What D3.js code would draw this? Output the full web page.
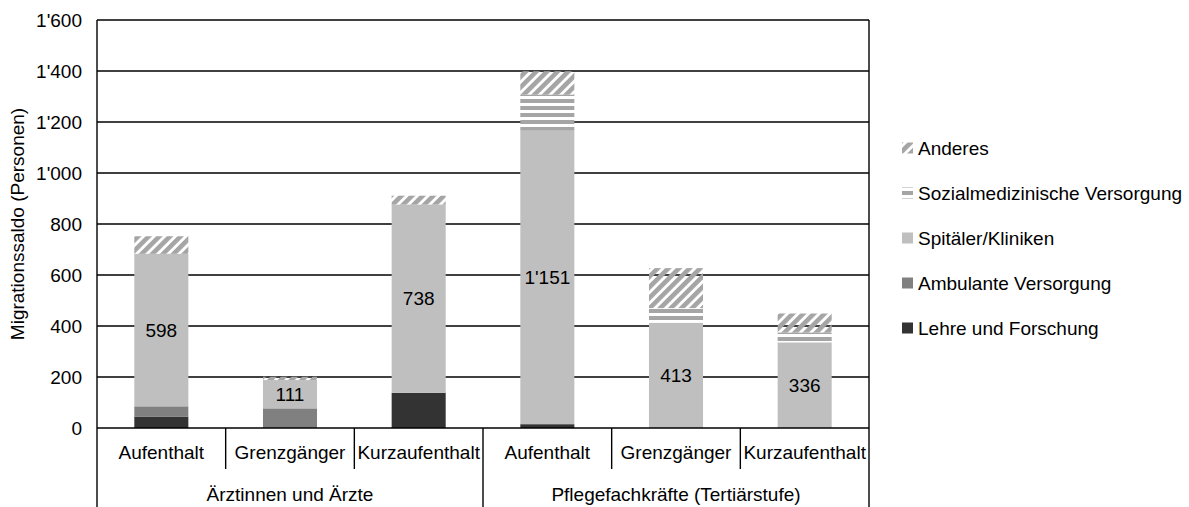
<!DOCTYPE html>
<html>
<head>
<meta charset="utf-8">
<script src="https://cdn.jsdelivr.net/npm/d3@7"></script>
<style>
  body { margin: 0; background: #fff; }
  svg text { font-family: "Liberation Sans", Arial, Helvetica, sans-serif; fill: #000; }
</style>
</head>
<body>
<svg id="chart"></svg>
<script>
const width = 1189;
const height = 507;

// data
const subCategories = ["Aufenthalt", "Grenzgänger", "Kurzaufenthalt", "Aufenthalt", "Grenzgänger", "Kurzaufenthalt"];
const groups = ["Ärztinnen und Ärzte", "Pflegefachkräfte (Tertiärstufe)"];
const seriesNames = ["Lehre und Forschung", "Ambulante Versorgung", "Spitäler/Kliniken", "Sozialmedizinische Versorgung", "Anderes"];
const lehre = [45, 0, 138, 15, 0, 0];
const ambulant = [40, 77, 0, 0, 0, 0];
const spitaeler = [598, 111, 738, 1151, 413, 336];
const sozial = [0, 0, 0, 141, 57, 38];
const anderes = [69, 13, 35, 92, 157, 75];
const yTicks = [0, 200, 400, 600, 800, 1000, 1200, 1400, 1600];

const fills = ["#333333", "#808080", "#bfbfbf", "url(#hstripe)", "url(#diag)"];
const fontSize = 19;

const margin = { left: 97, right: 320, top: 20, bottom: 79 };
const plotRight = width - margin.right;   // 869
const plotBottom = height - margin.bottom; // 428

const locale = d3.formatLocale({ decimal: ".", thousands: "'", grouping: [3], currency: ["", ""] });
const fmt = locale.format(",d");

const rows = subCategories.map((c, i) => ({
    idx: i, lehre: lehre[i], ambulant: ambulant[i], spitaeler: spitaeler[i], sozial: sozial[i], anderes: anderes[i]
}));
const keys = ["lehre", "ambulant", "spitaeler", "sozial", "anderes"];
const stacked = d3.stack().keys(keys)(rows);

const x = d3.scaleBand().domain(d3.range(subCategories.length)).range([margin.left, plotRight]).paddingInner(0).paddingOuter(0);
const y = d3.scaleLinear().domain([0, 1600]).range([plotBottom, margin.top]);
const barW = x.bandwidth() * 0.42;

const svg = d3.select("#chart").attr("width", width).attr("height", height);

// patterns
const defs = svg.append("defs");
defs.append("pattern")
    .attr("id", "diag")
    .attr("patternUnits", "userSpaceOnUse")
    .attr("width", 7.5).attr("height", 7.5)
    .attr("patternTransform", "rotate(45)")
    .append("rect").attr("width", 4.6).attr("height", 7.5).attr("fill", "#a5a5a5");
const hs = defs.append("pattern")
    .attr("id", "hstripe")
    .attr("patternUnits", "userSpaceOnUse")
    .attr("width", 8).attr("height", 7);
hs.append("rect").attr("width", 8).attr("height", 7).attr("fill", "#fff");
hs.append("rect").attr("y", 1).attr("width", 8).attr("height", 4).attr("fill", "#a5a5a5");

// gridlines
svg.append("g")
    .selectAll("line")
    .data(yTicks.filter(t => t > 0)).enter()
    .append("line")
    .attr("x1", margin.left).attr("x2", plotRight)
    .attr("y1", d => y(d)).attr("y2", d => y(d))
    .attr("stroke", "#000").attr("stroke-width", 1.4);

// bars
svg.append("g")
    .selectAll("g")
    .data(stacked).enter()
    .append("g")
    .attr("fill", (d, i) => fills[i])
    .selectAll("rect")
    .data(d => d.filter(s => s[1] > s[0])).enter()
    .append("rect")
    .attr("x", d => x(d.data.idx) + (x.bandwidth() - barW) / 2)
    .attr("width", barW)
    .attr("y", d => y(d[1]))
    .attr("height", d => y(d[0]) - y(d[1]));

// value labels on Spitäler/Kliniken
svg.append("g")
    .selectAll("text")
    .data(stacked[2]).enter()
    .append("text")
    .attr("x", d => x(d.data.idx) + x.bandwidth() / 2)
    .attr("y", d => (y(d[0]) + y(d[1])) / 2)
    .attr("dy", "0.35em")
    .attr("text-anchor", "middle")
    .attr("font-size", fontSize)
    .text(d => fmt(d.data.spitaeler));

// y axis tick labels
svg.append("g")
    .selectAll("text")
    .data(yTicks).enter()
    .append("text")
    .attr("x", margin.left - 15)
    .attr("y", d => y(d))
    .attr("dy", "0.35em")
    .attr("text-anchor", "end")
    .attr("font-size", fontSize)
    .text(d => fmt(d));

// axis frame
const frame = svg.append("g").attr("stroke", "#000").attr("stroke-width", 1.4);
frame.append("line").attr("x1", margin.left).attr("x2", margin.left).attr("y1", margin.top).attr("y2", height);
frame.append("line").attr("x1", plotRight).attr("x2", plotRight).attr("y1", margin.top).attr("y2", height);
frame.append("line").attr("x1", margin.left).attr("x2", plotRight).attr("y1", plotBottom).attr("y2", plotBottom);

// sub category separators and group separator
frame.selectAll(".sep")
    .data(d3.range(1, subCategories.length)).enter()
    .append("line")
    .attr("x1", d => x(d)).attr("x2", d => x(d))
    .attr("y1", plotBottom)
    .attr("y2", d => d === 3 ? height : 469);

// category labels
svg.append("g")
    .selectAll("text")
    .data(subCategories).enter()
    .append("text")
    .attr("x", (d, i) => x(i) + x.bandwidth() / 2)
    .attr("y", 459)
    .attr("text-anchor", "middle")
    .attr("font-size", fontSize)
    .text(d => d);

svg.append("g")
    .selectAll("text")
    .data(groups).enter()
    .append("text")
    .attr("x", (d, i) => x(i * 3) + x.bandwidth() * 1.5)
    .attr("y", 501)
    .attr("text-anchor", "middle")
    .attr("font-size", fontSize)
    .text(d => d);

// y title
svg.append("text")
    .attr("transform", "translate(24," + ((margin.top + plotBottom) / 2) + ") rotate(-90)")
    .attr("text-anchor", "middle")
    .attr("font-size", fontSize)
    .text("Migrationssaldo (Personen)");

// legend (top entry = top of stack)
const legendItems = seriesNames.map((n, i) => ({ name: n, fill: fills[i] })).reverse();
const legend = svg.append("g").attr("transform", "translate(902,148)");
legend.selectAll("rect")
    .data(legendItems).enter()
    .append("rect")
    .attr("x", 0)
    .attr("y", (d, i) => i * 45 - 5.5)
    .attr("width", 11).attr("height", 11)
    .attr("fill", d => d.fill);
legend.selectAll("text")
    .data(legendItems).enter()
    .append("text")
    .attr("x", 16)
    .attr("y", (d, i) => i * 45)
    .attr("dy", "0.35em")
    .attr("font-size", fontSize)
    .text(d => d.name);
</script>
</body>
</html>
